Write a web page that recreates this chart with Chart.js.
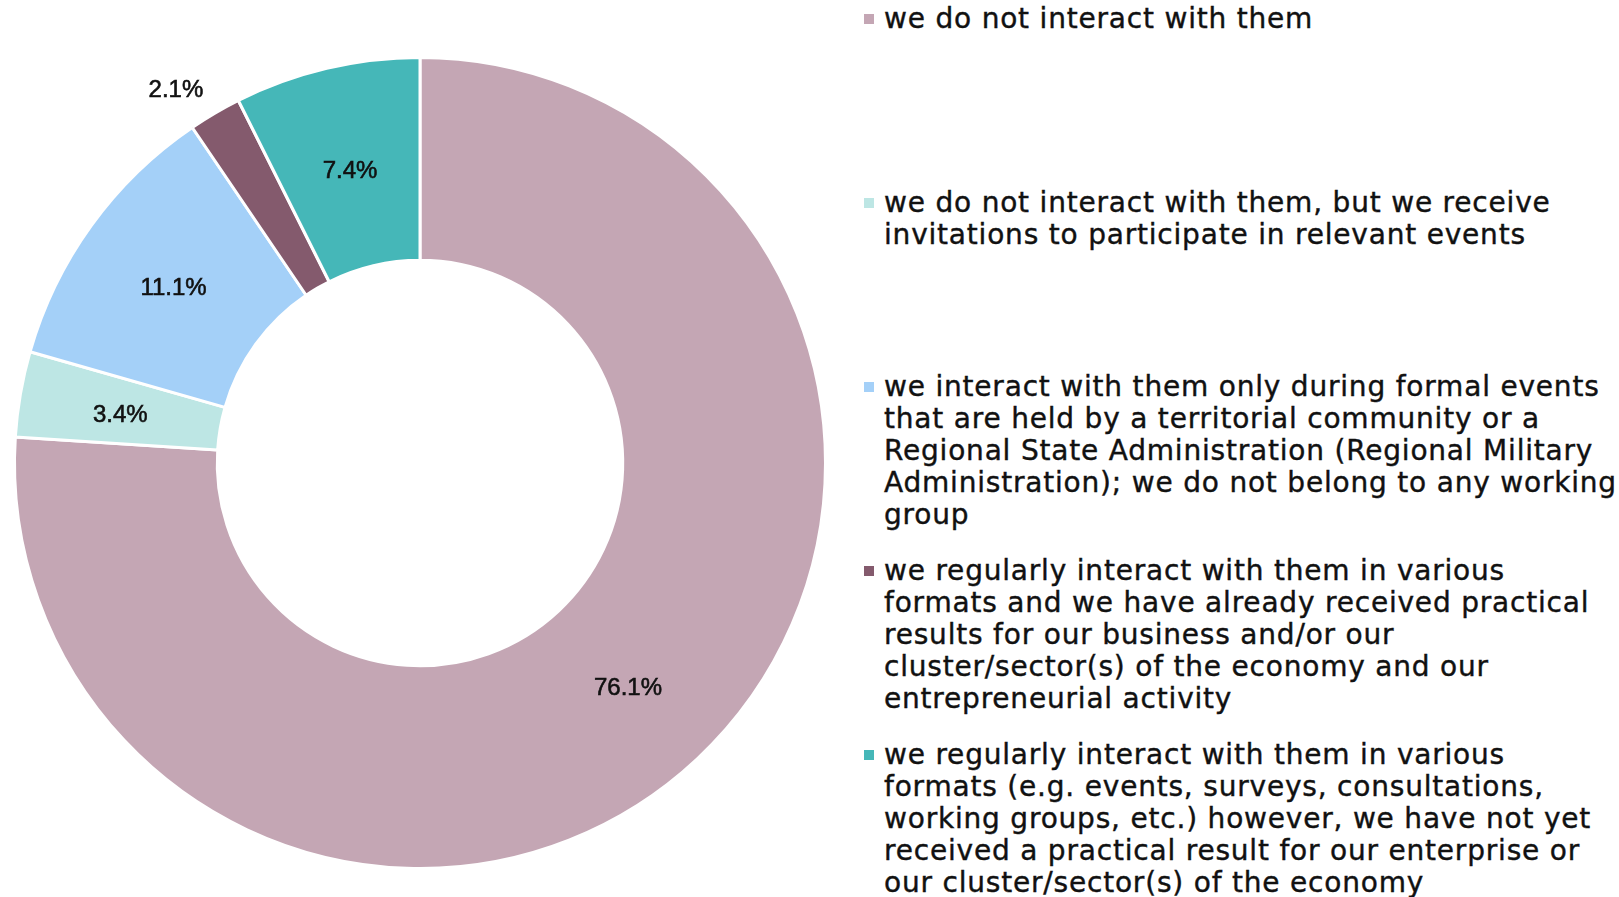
<!DOCTYPE html>
<html>
<head>
<meta charset="utf-8">
<script src="https://cdn.jsdelivr.net/npm/chart.js@4/dist/chart.umd.min.js"></script>
<style>
  html, body { margin: 0; padding: 0; background: #fff; }
  body { width: 1619px; height: 897px; position: relative; overflow: hidden; }
  #wrap { position: absolute; left: 0; top: 0; width: 840px; height: 897px; }
  #legend { position: absolute; left: 864px; top: 0; width: 755px; font-family: "DejaVu Sans", sans-serif; font-size: 28px; letter-spacing: 0.8px; line-height: 32px; color: #111; -webkit-text-stroke: 0.4px #111; }
  .item { position: absolute; left: 0; width: 755px; }
  .item .box { position: absolute; left: 0; top: 14px; width: 10px; height: 10px; }
  .item .txt { position: absolute; left: 20px; top: 3px; white-space: nowrap; }
</style>
</head>
<body>
<div id="wrap"><canvas id="donut"></canvas></div>
<div id="legend"></div>
<script>
// --- Dados do gráfico (cada categoria com as quebras de linha da legenda) ---
const categories = [
    ['we do not interact with them'],
    ['we do not interact with them, but we receive',
     'invitations to participate in relevant events'],
    ['we interact with them only during formal events',
     'that are held by a territorial community or a',
     'Regional State Administration (Regional Military',
     'Administration); we do not belong to any working',
     'group'],
    ['we regularly interact with them in various',
     'formats and we have already received practical',
     'results for our business and/or our',
     'cluster/sector(s) of the economy and our',
     'entrepreneurial activity'],
    ['we regularly interact with them in various',
     'formats (e.g. events, surveys, consultations,',
     'working groups, etc.) however, we have not yet',
     'received a practical result for our enterprise or',
     'our cluster/sector(s) of the economy']
];
const shares = [76.1, 3.4, 11.1, 2.1, 7.4];
const colors = ['#c4a6b4', '#bde6e4', '#a4d0f8', '#845a6d', '#45b7b8'];

// --- Legenda em HTML ---
const legendEl = document.getElementById('legend');
categories.forEach((lines, i) => {
    const item = document.createElement('div');
    item.className = 'item';
    item.style.top = (i * 184) + 'px';
    item.innerHTML = '<span class="box" style="background:' + colors[i] + '"></span><div class="txt">' + lines.join('<br>') + '</div>';
    legendEl.appendChild(item);
});

// --- Plugin simples para os rótulos de percentagem ---
const sliceLabels = {
    id: 'sliceLabels',
    afterDatasetsDraw(chart) {
        const ctx = chart.ctx;
        const meta = chart.getDatasetMeta(0);
        ctx.save();
        ctx.font = '24px "Liberation Sans", Arial, sans-serif';
        ctx.fillStyle = '#111';
        ctx.strokeStyle = '#111';
        ctx.lineWidth = 0.6;
        ctx.textAlign = 'center';
        ctx.textBaseline = 'middle';
        meta.data.forEach((arc, i) => {
            const txt = shares[i].toFixed(1) + '%';
            let x, y;
            if (shares[i] < 3) {
                // fatia pequena: rótulo fora do anel
                const p = arc.getProps(['x', 'y', 'startAngle', 'endAngle', 'outerRadius'], true);
                const mid = (p.startAngle + p.endAngle) / 2 - 0.045;
                const r = p.outerRadius + 43;
                x = p.x + Math.cos(mid) * r;
                y = p.y + Math.sin(mid) * r + 4;
            } else {
                const pos = arc.tooltipPosition(true);
                x = pos.x;
                y = pos.y + 4;
            }
            ctx.fillText(txt, x, y);
            ctx.strokeText(txt, x, y);
        });
        ctx.restore();
    }
};

const donutCtx = document.getElementById('donut').getContext('2d');
new Chart(donutCtx, {
    type: 'doughnut',
    data: {
        labels: categories,
        datasets: [{
            data: shares,
            backgroundColor: colors,
            borderColor: '#ffffff',
            borderWidth: 3
        }]
    },
    options: {
        responsive: true,
        maintainAspectRatio: false,
        animation: false,
        cutout: '50%',
        layout: { padding: { left: 13, right: 13, top: 56, bottom: 27 } },
        plugins: {
            legend: { display: false },
            tooltip: { enabled: false },
            title: { display: false }
        }
    },
    plugins: [sliceLabels]
});
</script>
</body>
</html>
